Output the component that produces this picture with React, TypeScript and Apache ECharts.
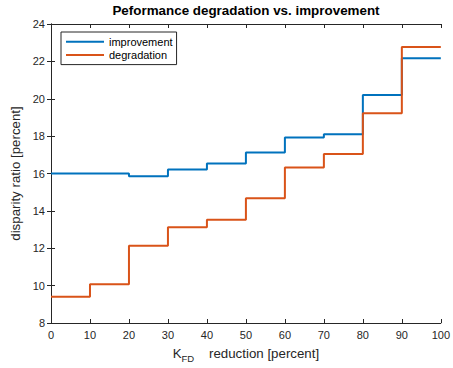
import React, { useEffect, useRef } from "react";
import * as echarts from "echarts";

const xs = [0, 10, 20, 30, 40, 50, 60, 70, 80, 90, 100];
const improvement = [16.0, 16.0, 15.85, 16.22, 16.53, 17.12, 17.92, 18.1, 20.2, 22.17, 22.17];
const degradation = [9.4, 10.08, 12.14, 13.12, 13.52, 14.68, 16.32, 17.05, 19.22, 22.77, 22.77];
const seriesNames = ["improvement", "degradation"];
const colors = ["#0072BD", "#D95319"];

const FONT = "'Liberation Sans', Arial, Helvetica, sans-serif";
const AX = "#262626";

export default function App() {
  const ref = useRef<HTMLDivElement>(null);
  useEffect(() => {
    if (!ref.current) return;
    const chart = echarts.init(ref.current, undefined, { renderer: "svg" });
    const axisCommon = {
      axisLine: { show: true, lineStyle: { color: AX, width: 1 } },
      axisTick: { show: true, inside: true, length: 4, lineStyle: { color: AX } },
      splitLine: { show: false },
    };
    chart.setOption({
      animation: false,
      backgroundColor: "#fff",
      textStyle: { fontFamily: FONT },
      title: {
        text: "Peformance degradation vs. improvement",
        left: 246,
        textAlign: "center",
        top: 4,
        padding: 0,
        textStyle: { fontFamily: FONT, fontSize: 13.4, fontWeight: "bold", color: "#000" },
      },
      grid: { left: 51, right: 11, top: 24, bottom: 41, containLabel: false },
      legend: {
        left: 61,
        top: 32,
        orient: "vertical",
        itemWidth: 38,
        itemHeight: 2,
        itemGap: 0,
        padding: [3, 4, 3, 5],
        borderColor: AX,
        borderWidth: 1,
        borderRadius: 0,
        backgroundColor: "#fff",
        icon: "rect",
        textStyle: { fontFamily: FONT, fontSize: 11, color: "#000", lineHeight: 13.3 },
        data: seriesNames,
      },
      xAxis: [
        {
          type: "value",
          min: 0,
          max: 100,
          interval: 10,
          ...axisCommon,
          axisLabel: { color: AX, fontSize: 11, fontFamily: FONT, margin: 6 },
          name: "{a|K}{b|FD}{a|    reduction [percent]}",
          nameLocation: "middle",
          nameGap: 21,
          nameTextStyle: {
            rich: {
              a: { fontSize: 13.3, color: AX, fontFamily: FONT },
              b: { fontSize: 9.5, color: AX, fontFamily: FONT, padding: [9, 0, 0, 0] },
            },
          },
        },
        {
          type: "value",
          position: "top",
          min: 0,
          max: 100,
          interval: 10,
          ...axisCommon,
          axisLabel: { show: false },
        },
      ],
      yAxis: [
        {
          type: "value",
          min: 8,
          max: 24,
          interval: 2,
          ...axisCommon,
          axisLabel: { color: AX, fontSize: 11, fontFamily: FONT, margin: 6 },
          name: "disparity ratio [percent]",
          nameLocation: "middle",
          nameGap: 21,
          nameTextStyle: { fontSize: 13.3, color: AX, fontFamily: FONT },
        },
        {
          type: "value",
          position: "right",
          min: 8,
          max: 24,
          interval: 2,
          ...axisCommon,
          axisLabel: { show: false },
        },
      ],
      series: [
        {
          name: seriesNames[0],
          type: "line",
          step: "end",
          data: xs.map((x, i) => [x, improvement[i]]),
          showSymbol: false,
          symbol: "none",
          lineStyle: { color: colors[0], width: 2 },
          itemStyle: { color: colors[0] },
        },
        {
          name: seriesNames[1],
          type: "line",
          step: "end",
          data: xs.map((x, i) => [x, degradation[i]]),
          showSymbol: false,
          symbol: "none",
          lineStyle: { color: colors[1], width: 2 },
          itemStyle: { color: colors[1] },
        },
      ],
    });
    return () => chart.dispose();
  }, []);
  return <div ref={ref} style={{ width: 453, height: 368, position: "absolute", left: 0, top: 0 }} />;
}
